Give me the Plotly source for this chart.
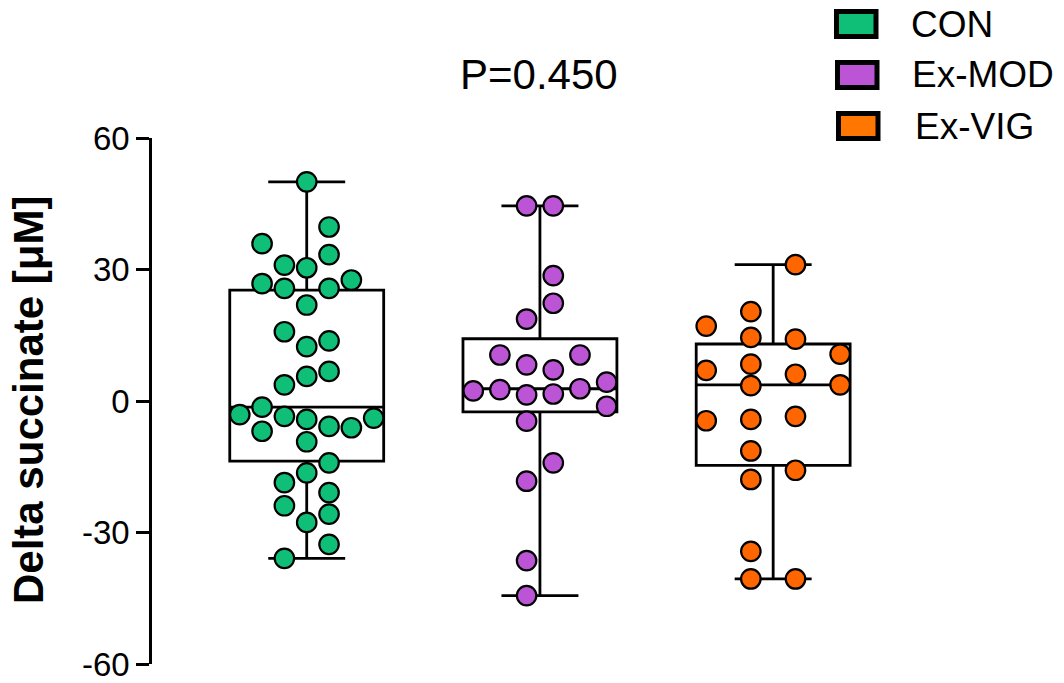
import plotly.graph_objects as go

# ---------------- data ----------------
groups = ["CON", "Ex-MOD", "Ex-VIG"]

con_values = [50, 39.7, 35.9, 33.4, 31.0, 30.4, 26.8, 25.7, 25.7, 27.6, 21.9, 15.8, 12.4, 13.7,
              3.7, 5.6, 6.75, -3.1, -1.4, -3.5, -4.2, -5.8, -6.1, -3.9, -6.9, -9.3, -14.1, -16.4,
              -18.6, -20.9, -23.9, -25.8, -27.7, -32.7, -35.9]
mod_values = [44.5, 44.5, 28.6, 22.3, 18.7, 10.5, 8.25, 7.1, 10.5, 2.3, 2.6, 1.4, 1.6, 2.8, 4.3,
              -1.2, -4.6, -14.1, -18.3, -36.4, -44.4]
vig_values = [31.1, 20.4, 17.1, 14.5, 14.1, 10.7, 7.0, 8.4, 6.1, 3.5, 3.7, -4.5, -4.2, -3.5,
              -11.4, -15.8, -17.9, -34.3, -40.6, -40.6]

# box statistics as drawn in the reference
box_q1 = [-13.7, -2.5, -14.7]
box_median = [-1.4, 2.8, 3.7]
box_q3 = [25.3, 14.2, 13.0]
box_low = [-35.9, -44.4, -40.6]
box_high = [50, 44.5, 31.1]

p_label = "P=0.450"
y_title = "Delta succinate [μM]"
tick_vals = [-60, -30, 0, 30, 60]
tick_text = ["-60", "-30", "0", "30", "60"]

# ---------------- swarm layout (column slots per point) ----------------
con_slots = [0, 1, -2, 1, -1, 0, -2, -1, 1, 2, 0, -1, 0, 1, -1, 0, 1, -3, -2, -1, 0, 1, 2, 3,
             -2, 0, 1, 0, -1, 1, -1, 1, 0, 1, -1]
mod_slots = [-1, 1, 1, 1, -1, -3, -1, 1, 3, -5, -3, -1, 1, 3, 5, 5, -1, 1, -1, -1, -1]
vig_slots = [1, -1, -3, -1, 1, 3, -3, -1, 1, -1, 3, -3, -1, 1, -1, 1, -1, -1, -1, 1]
slot_width = [0.0957, 0.0572, 0.0957]

colors = ["#0FBF78", "#BB55D6", "#FF6600"]
legend_colors = ["#0FBF78", "#BB55D6", "#FF7700"]

FONT = "Liberation Sans, Arial, Helvetica, sans-serif"

W, H = 1064, 683
ML, MR, MT, MB = 152, 80, 138, 19
xrange = [-0.6634, 2.904]


def px_to_paper(px, py):
    pw = W - ML - MR
    ph = H - MT - MB
    return (px - ML) / pw, (H - MB - py) / ph


fig = go.Figure()

for i, g in enumerate(groups):
    fig.add_trace(go.Box(
        x=[i], q1=[box_q1[i]], median=[box_median[i]], q3=[box_q3[i]],
        lowerfence=[box_low[i]], upperfence=[box_high[i]],
        width=0.66, whiskerwidth=0.5,
        fillcolor="rgba(255,255,255,0)",
        line=dict(color="black", width=2.8),
        boxpoints=False, showlegend=False, hoverinfo="skip", name=g,
    ))

all_values = [con_values, mod_values, vig_values]
all_slots = [con_slots, mod_slots, vig_slots]
for i, g in enumerate(groups):
    xs = [i + s * slot_width[i] for s in all_slots[i]]
    fig.add_trace(go.Scatter(
        x=xs, y=all_values[i], mode="markers", name=g, showlegend=False,
        marker=dict(size=19.5, color=colors[i], line=dict(color="black", width=2.2)),
    ))

# legend drawn as shapes + text
shapes = []
annotations = []
leg_boxes = [(834, 9), (835, 60), (836, 111)]
leg_text = [(909, 24), (910, 75), (913, 126)]
for i, g in enumerate(groups):
    x0, y0 = leg_boxes[i]
    a = px_to_paper(x0 + 2.5, y0 + 2.5)
    b = px_to_paper(x0 + 44.5 - 2.5, y0 + 30 - 2.5)
    shapes.append(dict(type="rect", xref="paper", yref="paper", x0=a[0], y0=b[1], x1=b[0], y1=a[1],
                       fillcolor=legend_colors[i], line=dict(color="black", width=5), layer="above"))
    tx, ty = px_to_paper(*leg_text[i])
    annotations.append(dict(text=g, xref="paper", yref="paper", x=tx, y=ty, xanchor="left",
                            yanchor="middle", showarrow=False, font=dict(family=FONT, size=37, color="black")))

px_, py_ = px_to_paper(539, 74)
annotations.append(dict(text=p_label, xref="paper", yref="paper", x=px_, y=py_, xanchor="center",
                        yanchor="middle", showarrow=False, font=dict(family=FONT, size=42, color="black")))

tx, ty = px_to_paper(28, 400)
annotations.append(dict(text="<b>" + y_title + "</b>", xref="paper", yref="paper", x=tx, y=ty,
                        xanchor="center", yanchor="middle", textangle=-90, showarrow=False,
                        font=dict(family=FONT, size=42, color="black")))

fig.update_layout(
    width=W, height=H,
    margin=dict(l=ML, r=MR, t=MT, b=MB),
    paper_bgcolor="white", plot_bgcolor="white",
    boxmode="overlay",
    showlegend=False,
    shapes=shapes, annotations=annotations,
    xaxis=dict(range=xrange, visible=False),
    yaxis=dict(range=[-60, 60], tickvals=tick_vals, ticktext=tick_text,
               ticks="outside", ticklen=13, tickwidth=2.5, tickcolor="black",
               showline=True, linewidth=2.5, linecolor="black",
               showgrid=False, zeroline=False, automargin=False,
               ticklabeloverflow="allow",
               tickfont=dict(family=FONT, size=33, color="black")),
)

fig.write_html("out.html")
